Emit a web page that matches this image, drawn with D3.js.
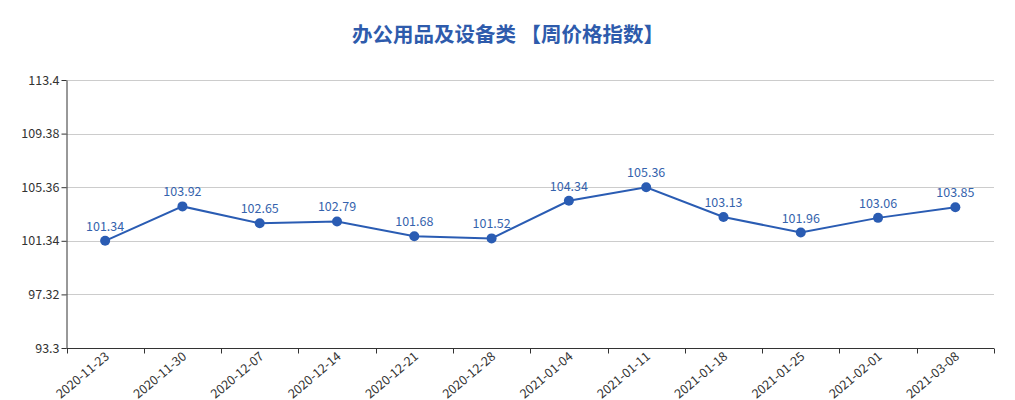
<!DOCTYPE html>
<html><head><meta charset="utf-8">
<script src="https://cdn.jsdelivr.net/npm/d3@7"></script>
<style>body{margin:0;background:#fff}svg{display:block}</style>
</head><body>
<svg id="c" width="1015" height="400"></svg>
<script>
const titleText = "办公用品及设备类 【周价格指数】";
const categories = ["2020-11-23","2020-11-30","2020-12-07","2020-12-14","2020-12-21","2020-12-28","2021-01-04","2021-01-11","2021-01-18","2021-01-25","2021-02-01","2021-03-08"];
const values = [101.34,103.92,102.65,102.79,101.68,101.52,104.34,105.36,103.13,101.96,103.06,103.85];
const yTicks = [93.3,97.32,101.34,105.36,109.38,113.4];

(function(){
const svg = d3.select("#c");
const font = "'Microsoft YaHei','Noto Sans CJK SC','Noto Sans',sans-serif";
const mLeft = 66.5, mRight = 994, mTop = 80, mBottom = 348;
const x = d3.scaleBand().domain(categories).range([mLeft, mRight]);
const y = d3.scaleLinear().domain([93.3, 113.4]).range([mBottom, mTop]);
const color = "#2a5cb3";

svg.append("text").attr("x", 508).attr("y", 42).attr("text-anchor","middle")
  .attr("font-family", font).attr("font-size", 20.5).attr("font-weight","bold")
  .attr("fill", "#2e5bac").text(titleText);

svg.append("g").selectAll("line").data(yTicks.slice(1)).join("line")
  .attr("x1", mLeft).attr("x2", mRight).attr("y1", d=>Math.round(y(d))+0.5).attr("y2", d=>Math.round(y(d))+0.5)
  .attr("stroke", "#ccc").attr("stroke-width",1);

const ya = svg.append("g").attr("transform", `translate(${mLeft},0)`)
  .call(d3.axisLeft(y).tickValues(yTicks).tickFormat(d=>String(d)).tickSize(5).tickSizeOuter(0));
ya.select(".domain").attr("stroke","#333");
ya.selectAll(".tick line").attr("stroke","#333");
ya.selectAll(".tick text").attr("fill","#333").attr("font-size",12.5).attr("font-family",font).attr("x",-7);

const xa = svg.append("g").attr("transform", `translate(0,${mBottom+0.5})`);
xa.append("line").attr("x1", mLeft).attr("x2", mRight).attr("stroke","#333");
const bounds = categories.map(c => x(c)).concat([mRight]);
xa.selectAll("line.t").data(bounds).join("line").attr("class","t")
  .attr("x1", d=>Math.round(d)+0.5).attr("x2", d=>Math.round(d)+0.5).attr("y1",0).attr("y2",5).attr("stroke","#333");
xa.selectAll("text").data(categories).join("text")
  .attr("transform", d=>`translate(${x(d)+x.bandwidth()/2+2},${6}) rotate(-40)`)
  .attr("text-anchor","end").attr("dy","0.35em")
  .attr("font-size",12.5).attr("font-family",font).attr("fill","#333").text(d=>d);

const cx = (d,i) => x(categories[i]) + x.bandwidth()/2;
svg.append("path").datum(values)
  .attr("d", d3.line().x((d,i)=>cx(d,i)).y(d=>y(d)))
  .attr("fill","none").attr("stroke", color).attr("stroke-width", 2);
svg.append("g").selectAll("circle").data(values).join("circle")
  .attr("cx", cx).attr("cy", d=>y(d)).attr("r", 5).attr("fill", color);
svg.append("g").selectAll("text").data(values).join("text")
  .attr("x", cx).attr("y", d=>y(d)-10).attr("text-anchor","middle")
  .attr("font-size",12.5).attr("font-family",font).attr("fill","#3563ad")
  .text(d=>d.toFixed(2));
})();
</script>
</body></html>
